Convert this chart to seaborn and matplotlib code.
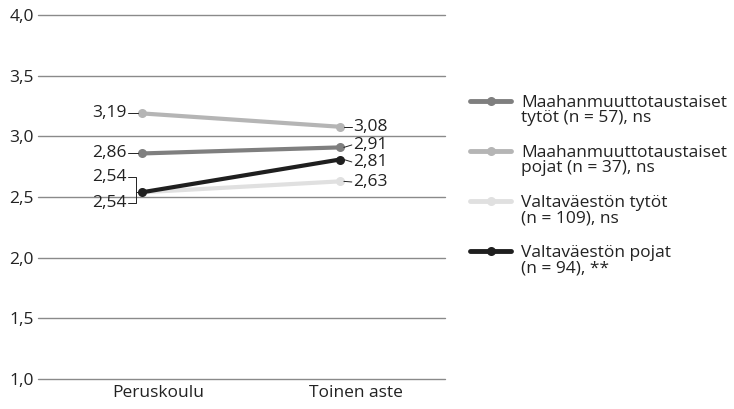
import pandas as pd
import matplotlib
matplotlib.use('Agg')
from matplotlib import pyplot as plt
from matplotlib.lines import Line2D
from matplotlib.legend_handler import HandlerLine2D
from matplotlib.transforms import ScaledTranslation
import seaborn as sns

# data
stages = ['Peruskoulu', 'Toinen aste']
groups = ['Maahanmuuttotaustaiset\ntytöt (n = 57), ns',
          'Maahanmuuttotaustaiset\npojat (n = 37), ns',
          'Valtaväestön tytöt\n(n = 109), ns',
          'Valtaväestön pojat\n(n = 94), **']
imm_girls = [2.86, 2.91]
imm_boys = [3.19, 3.08]
maj_girls = [2.54, 2.63]
maj_boys = [2.54, 2.81]
colors = ['#7f7f7f', '#b5b5b5', '#e0e0e0', '#1f1f1f']
yticks = [1.0, 1.5, 2.0, 2.5, 3.0, 3.5, 4.0]

rows = []
for g, vals in zip(groups, [imm_girls, imm_boys, maj_girls, maj_boys]):
    for i, v in enumerate(vals):
        rows.append({'stage': i, 'group': g, 'value': v})
df = pd.DataFrame(rows)

sns.set_style('white')
plt.rcParams['font.family'] = ['Open Sans', 'DejaVu Sans']
FS = 12.5
plt.rcParams['font.size'] = FS
tc = '#222222'

fig = plt.figure(figsize=(7.34, 4.09), dpi=100)
ax = fig.add_axes([0.052, 0.073, 0.554, 0.89])

for y in yticks:
    ax.axhline(y, color='#8a8a8a', lw=1, zorder=0, clip_on=False)

sns.lineplot(data=df, x='stage', y='value', hue='group', hue_order=groups,
             palette=colors, marker='o', markersize=6.5, markeredgewidth=0,
             linewidth=3.0, ax=ax, legend=True)

ax.set_xlim(-0.525, 1.53)
ax.set_ylim(1.0, 4.0)
ax.set_yticks(yticks)
ax.set_yticklabels([f'{y:.1f}'.replace('.', ',') for y in yticks], fontsize=FS, color=tc)
ax.set_xticks([0, 1])
ax.set_xticklabels(stages, fontsize=FS, color=tc)
ax.tick_params(axis='y', length=0, pad=3)
ax.tick_params(axis='x', length=0, pad=4)
shift = ScaledTranslation(16 / 100, 0, fig.dpi_scale_trans)
for lab in ax.get_xticklabels():
    lab.set_transform(lab.get_transform() + shift)
ax.set_xlabel('')
ax.set_ylabel('')
for s in ax.spines.values():
    s.set_visible(False)

def fmt(v):
    return f'{v:.2f}'.replace('.', ',')

lc = '#222222'
# left labels
for v in [imm_boys[0], imm_girls[0]]:
    ax.plot([-0.072, -0.02], [v, v], color=lc, lw=0.7)
    ax.text(-0.078, v, fmt(v), ha='right', va='center', fontsize=FS, color=tc)
# bracket for the two 2,54 values
v = maj_boys[0]
up, lo = v + 0.125, v - 0.085
ax.plot([-0.072, -0.03, -0.03, -0.072], [up, up, lo, lo], color=lc, lw=0.7)
ax.plot([-0.03, -0.015], [v, v], color=lc, lw=0.7)
ax.text(-0.078, up, fmt(maj_boys[0]), ha='right', va='center', fontsize=FS, color=tc)
ax.text(-0.078, lo, fmt(maj_girls[0]), ha='right', va='center', fontsize=FS, color=tc)

# right labels
right = [(imm_boys[1], 0.0), (imm_girls[1], 0.02), (maj_boys[1], -0.02), (maj_girls[1], -0.005)]
for v, off in right:
    ax.plot([1.02, 1.06], [v, v + off], color=lc, lw=0.7)
    ax.text(1.065, v + off, fmt(v), ha='left', va='center', fontsize=FS, color=tc)


class UpHandler(HandlerLine2D):
    # put the legend line on the first text row
    def create_artists(self, legend, orig_handle, xdescent, ydescent,
                       width, height, fontsize, trans):
        arts = super().create_artists(legend, orig_handle, xdescent, ydescent,
                                      width, height, fontsize, trans)
        for a in arts:
            x, y = a.get_data()
            a.set_data(x, [yy + 0.55 * fontsize for yy in y])
        return arts


h, l = ax.get_legend_handles_labels()
ax.legend_.remove()
leg = fig.legend(h, l, loc='upper left', bbox_to_anchor=(0.640, 0.768), frameon=False,
                 fontsize=FS, handlelength=2.4, handletextpad=0.55, labelspacing=1.08,
                 borderaxespad=0, borderpad=0, handler_map={Line2D: UpHandler()})
for t in leg.get_texts():
    t.set_linespacing(0.95)
    t.set_color(tc)
for ln in leg.get_lines():
    ln.set_linewidth(3.5)

fig.savefig('out.png', dpi=100)
